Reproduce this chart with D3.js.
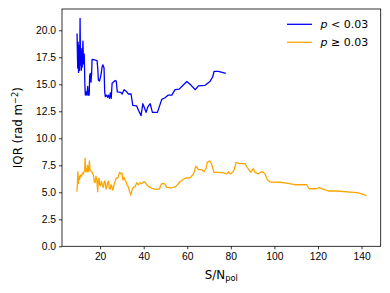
<!DOCTYPE html>
<html lang="en">
<head>
  <meta charset="UTF-8" />
  <title>IQR vs S/N</title>
  <script src="https://d3js.org/d3.v7.min.js"></script>
  <style>
    body { margin:0; padding:0; background:#fff; }
    svg { display:block; font-family:"DejaVu Sans", sans-serif; }
    .axis text { font-size:10.3px; fill:#000; }
    .axis path, .axis line { stroke:#000; stroke-width:0.8px; }
  </style>
</head>
<body>
  <svg width="390" height="293"></svg>
  <script>
  // p < 0.03 : [S/N_pol, IQR]
  const lowP = [
    [9.4,19.7],[9.7,16.5],[9.9,18.9],[10.1,16.1],[10.4,18.6],[10.6,16.3],[10.8,21.1],[11.0,16.8],
    [11.2,18.0],[11.4,16.3],[11.6,18.3],[11.8,16.6],[12.1,19.0],[12.4,16.9],[12.7,17.8],[13.0,15.0],
    [13.2,14.0],[13.6,14.3],[13.9,14.0],[14.3,14.8],[14.6,14.0],[15.0,14.0],[15.2,15.8],[15.5,16.0],
    [15.8,15.2],[16.1,16.0],[16.3,17.3],[17.5,17.25],[18.6,17.2],[18.9,16.5],[19.2,15.4],[19.7,15.3],
    [20.1,15.6],[20.5,16.0],[20.9,16.6],[21.3,16.8],[21.8,16.5],[22.1,14.3],[22.4,13.85],[22.9,14.0],
    [23.4,13.8],[23.8,14.0],[24.3,13.7],[24.7,14.2],[25.1,13.7],[25.5,15.1],[26.9,15.35],[27.4,15.3],
    [27.9,14.3],[29.5,14.25],[30.1,14.1],[31.0,14.5],[32.2,14.3],[33.0,14.1],[34.2,14.1],[35.0,13.05],
    [36.8,13.0],[37.6,12.6],[38.8,12.1],[39.6,13.2],[40.2,12.9],[41.1,12.4],[41.9,12.9],[43.0,13.2],
    [44.0,12.4],[46.3,12.4],[48.3,13.6],[49.8,13.75],[51.3,14.0],[52.9,14.0],[54.4,14.5],[56.3,14.55],
    [57.5,14.8],[59.8,15.25],[61.8,14.9],[63.7,14.5],[65.1,14.85],[68.2,14.9],[70.4,15.25],[71.7,15.7],
    [72.3,16.2],[74.3,16.2],[77.7,16.0]
  ];

  // p >= 0.03 : [S/N_pol, IQR]
  const highP = [
    [9.3,5.05],[9.5,5.4],[9.8,6.9],[10.0,5.8],[10.3,6.5],[10.6,6.2],[11.0,6.6],[11.5,6.5],[11.9,6.8],
    [12.3,6.7],[12.6,6.9],[12.9,7.0],[13.1,8.15],[13.4,6.9],[13.6,7.2],[14.0,6.9],[14.2,7.5],[14.5,6.9],
    [14.8,7.2],[15.1,7.9],[15.4,7.0],[15.8,7.0],[16.2,6.9],[16.6,6.7],[16.9,6.6],[17.3,6.0],[17.7,5.9],
    [18.1,6.5],[18.5,6.1],[18.9,5.05],[19.2,6.2],[19.5,6.3],[19.8,5.7],[20.2,5.6],[20.6,6.0],[21.0,5.7],
    [21.5,5.45],[21.9,6.0],[22.3,6.05],[22.7,5.3],[23.1,5.5],[23.5,5.9],[23.8,6.05],[24.2,5.4],[24.6,5.3],
    [25.0,5.7],[25.3,5.6],[25.7,5.2],[26.1,5.4],[26.5,5.8],[26.9,6.0],[27.3,6.3],[27.8,6.3],[28.3,6.4],
    [28.9,6.85],[29.4,6.7],[30.0,6.8],[30.4,6.15],[31.0,6.4],[31.4,6.1],[31.9,6.0],[32.3,5.7],[32.7,5.6],
    [33.1,5.4],[33.5,5.1],[34.1,4.75],[34.7,5.3],[35.4,5.5],[36.1,5.5],[36.8,5.9],[37.5,5.7],[38.4,5.9],
    [39.0,5.8],[39.6,5.9],[40.2,6.0],[40.8,5.9],[41.4,5.7],[42.5,5.5],[43.7,5.37],[45.2,5.3],[47.2,5.3],
    [47.8,5.6],[48.3,5.8],[49.5,5.8],[50.6,5.45],[52.4,5.4],[54.4,5.5],[55.5,5.7],[56.7,6.0],[59.0,6.3],
    [61.3,6.35],[62.5,6.6],[63.3,6.9],[63.8,7.4],[64.5,7.3],[65.1,7.1],[66.6,7.1],[67.7,6.9],[68.6,7.2],
    [69.2,7.8],[70.4,7.9],[71.2,7.6],[72.3,6.85],[74.3,6.85],[76.5,6.8],[78.1,6.7],[78.9,6.9],[79.6,6.7],
    [80.8,6.85],[81.6,7.1],[82.4,7.75],[84.2,7.65],[86.5,7.65],[87.7,7.25],[89.1,6.85],[90.3,7.2],
    [91.1,6.85],[92.6,6.7],[93.6,6.85],[94.6,6.9],[95.7,6.7],[96.8,6.15],[98.0,5.95],[102.6,5.93],
    [105.6,5.85],[109.4,5.7],[114.8,5.7],[115.9,5.33],[119.4,5.33],[120.6,5.43],[121.7,5.35],
    [124.7,5.12],[128.6,5.12],[137.8,4.96],[139.4,4.9],[142.3,4.69]
  ];

  const xTicks = [20, 40, 60, 80, 100, 120, 140];
  const yTicks = [0, 2.5, 5, 7.5, 10, 12.5, 15, 17.5, 20];
  const series = [
    { label: "< 0.03", color: "#0000ff", data: lowP },
    { label: "\u2265 0.03", color: "#ffa500", data: highP }
  ];

  const svg = d3.select("svg");
  const W = 390, H = 293;
  const M = { left: 62, right: 9.3, top: 9, bottom: 46.7 };

  const x = d3.scaleLinear().domain([2.5, 148.8]).range([M.left, W - M.right]);
  const y = d3.scaleLinear().domain([0, 21.97]).range([H - M.bottom, M.top]);

  // lines
  const line = d3.line().x(d => x(d[0])).y(d => y(d[1]));
  svg.selectAll(".series").data(series).enter().append("path")
    .attr("class", "series")
    .attr("fill", "none")
    .attr("stroke", d => d.color)
    .attr("stroke-width", 1.3)
    .attr("stroke-linejoin", "round")
    .attr("d", d => line(d.data));

  // frame
  svg.append("rect")
    .attr("x", M.left).attr("y", M.top)
    .attr("width", W - M.left - M.right).attr("height", H - M.top - M.bottom)
    .attr("fill", "none").attr("stroke", "#000").attr("stroke-width", 0.8);

  // axes
  svg.append("g").attr("class", "axis")
    .attr("transform", `translate(0,${H - M.bottom})`)
    .call(d3.axisBottom(x).tickValues(xTicks).tickSize(3).tickPadding(3).tickFormat(d3.format("d")))
    .call(g => g.select(".domain").remove());

  svg.append("g").attr("class", "axis")
    .attr("transform", `translate(${M.left},0)`)
    .call(d3.axisLeft(y).tickValues(yTicks).tickSize(3).tickPadding(3).tickFormat(d3.format(".1f")))
    .call(g => g.select(".domain").remove());

  // axis labels
  const xl = svg.append("text")
    .attr("x", (M.left + W - M.right) / 2).attr("y", 278.5)
    .attr("text-anchor", "middle").attr("font-size", 11.8);
  xl.append("tspan").text("S/N");
  xl.append("tspan").attr("font-size", 8.3).attr("dy", 2.5).text("pol");

  const yl = svg.append("text")
    .attr("transform", `translate(22,${(M.top + H - M.bottom) / 2}) rotate(-90)`)
    .attr("text-anchor", "middle").attr("font-size", 11.8);
  yl.append("tspan").text("IQR (rad m");
  yl.append("tspan").attr("font-size", 8.3).attr("dy", -4.5).text("\u22122");
  yl.append("tspan").attr("dy", 4.5).text(")");

  // legend
  const lg = svg.append("g").selectAll("g").data(series).enter().append("g")
    .attr("transform", (d, i) => `translate(0,${24.3 + i * 18})`);
  lg.append("line")
    .attr("x1", 287).attr("x2", 312)
    .attr("stroke", d => d.color).attr("stroke-width", 1.3);
  const lt = lg.append("text")
    .attr("x", 320.5).attr("y", 4).attr("font-size", 11);
  lt.append("tspan").attr("font-style", "italic").text("p");
  lt.append("tspan").text(d => " " + d.label);
  </script>
</body>
</html>
